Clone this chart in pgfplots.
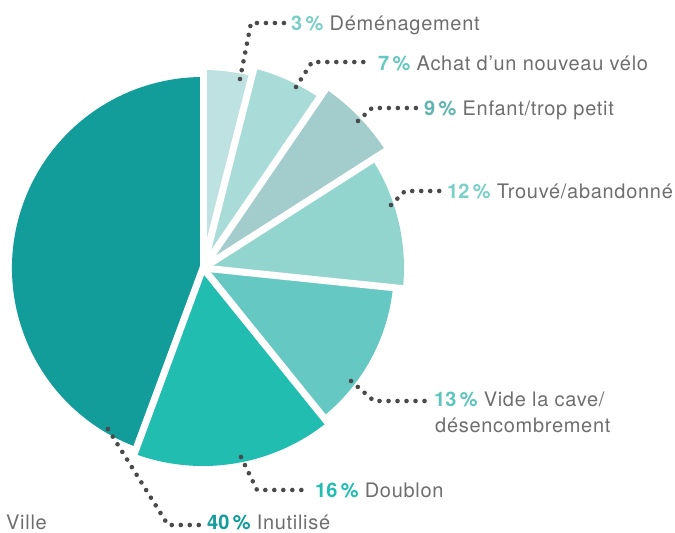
\documentclass[border=0pt]{standalone}
\usepackage{fontspec}
\setmainfont{TeX Gyre Heros}[LetterSpace=3.5]
\newfontfamily\pctfont{TeX Gyre Heros}
\usepackage{xcolor}
\usepackage{pgfplots}
\usepackage{pgfplotstable}
\pgfplotsset{compat=1.18}

\definecolor{c3}{HTML}{BEE2E1}
\definecolor{c7}{HTML}{A9DCD9}
\definecolor{c9}{HTML}{A3CDCC}
\definecolor{c12}{HTML}{92D5CF}
\definecolor{c13}{HTML}{66C8C2}
\definecolor{c16}{HTML}{22BDB1}
\definecolor{c40}{HTML}{129C9A}
\definecolor{p3}{HTML}{7ACFC9}
\definecolor{p7}{HTML}{66C8C2}
\definecolor{p9}{HTML}{5FB3B1}
\definecolor{p12}{HTML}{7ACFC9}
\definecolor{p13}{HTML}{5EC5BE}
\definecolor{labgray}{HTML}{6E6E70}
\definecolor{dotgray}{HTML}{4A4A4C}

\newcommand\pct[2]{{\pctfont\bfseries\color{#1}#2\,\%}}

% share (%), drawn start/end angle (deg, clockwise from 12 o'clock), radius (px), colour
\pgfplotstableread{
pct a b r col
3   0     14.3  198 c3
7   14.3  34.4  206 c7
9   34.4  57.4  217 c9
12  57.4  95.9  201 c12
13  95.9  141.1 191 c13
16  141.1 200.3 198 c16
40  200.3 360   191 c40
}\pietable

\begin{document}
\begin{tikzpicture}
\begin{axis}[
  width=675pt, height=533pt, scale only axis,
  xmin=0, xmax=675, ymin=0, ymax=533, y dir=reverse,
  enlargelimits=false, hide axis, clip=false,
]
\pgfplotsinvokeforeach{0,...,6}{
  \pgfplotstablegetelem{#1}{a}\of\pietable \let\pa\pgfplotsretval
  \pgfplotstablegetelem{#1}{b}\of\pietable \let\pb\pgfplotsretval
  \pgfplotstablegetelem{#1}{r}\of\pietable \let\pr\pgfplotsretval
  \pgfplotstablegetelem{#1}{col}\of\pietable \let\pc\pgfplotsretval
  \edef\temp{\noexpand\fill[\pc] (axis cs:203,268) -- ++({90-\pa}:\pr pt)
    arc[start angle={90-\pa}, end angle={90-\pb}, radius=\pr pt] -- cycle;}
  \temp
}
% white gaps between slices
\pgfplotsinvokeforeach{0,...,6}{
  \pgfplotstablegetelem{#1}{a}\of\pietable \let\pa\pgfplotsretval
  \edef\temp{\noexpand\draw[white, line width=7pt] (axis cs:203,268) -- ++({90-\pa}:224pt);}
  \temp
}
% leaders
\begin{scope}[dotgray, line width=4.6pt, line cap=round, dash pattern=on 0pt off 9pt]
\draw (axis cs:240,79) -- (axis cs:251,23) -- (axis cs:286,23);
\draw (axis cs:296,87) -- (axis cs:312,62) -- (axis cs:372,62);
\draw (axis cs:358,121) -- (axis cs:372,108) -- (axis cs:417,108);
\draw (axis cs:391,205) -- (axis cs:405,191) -- (axis cs:441,191);
\draw (axis cs:351,381) -- (axis cs:374,401) -- (axis cs:428,401);
\draw (axis cs:241,457) -- (axis cs:257,490) -- (axis cs:309,490);
\draw (axis cs:108,429) -- (axis cs:168,525) -- (axis cs:200,525);
\end{scope}
% labels
\begin{scope}[every node/.style={anchor=base west, inner sep=0pt, text=labgray,
  font=\fontsize{20}{27}\selectfont}]
\node at (axis cs:291,30) {\pct{p3}{3} Déménagement};
\node at (axis cs:378,70) {\pct{p7}{7} Achat d’un nouveau vélo};
\node at (axis cs:424,115) {\pct{p9}{9} Enfant/trop petit};
\node at (axis cs:447,198) {\pct{p12}{12} Trouvé/abandonné};
\node at (axis cs:434,406) {\pct{p13}{13} Vide la cave/};
\node at (axis cs:435,432) {désencombrement};
\node at (axis cs:315,497) {\pct{c16}{16} Doublon};
\node at (axis cs:207,529) {\pct{c40}{40} Inutilisé};
\node at (axis cs:6,529) {Ville};
\end{scope}
\end{axis}
\pgfresetboundingbox
\path (current axis.south west) rectangle (current axis.north east);
\end{tikzpicture}
\end{document}
